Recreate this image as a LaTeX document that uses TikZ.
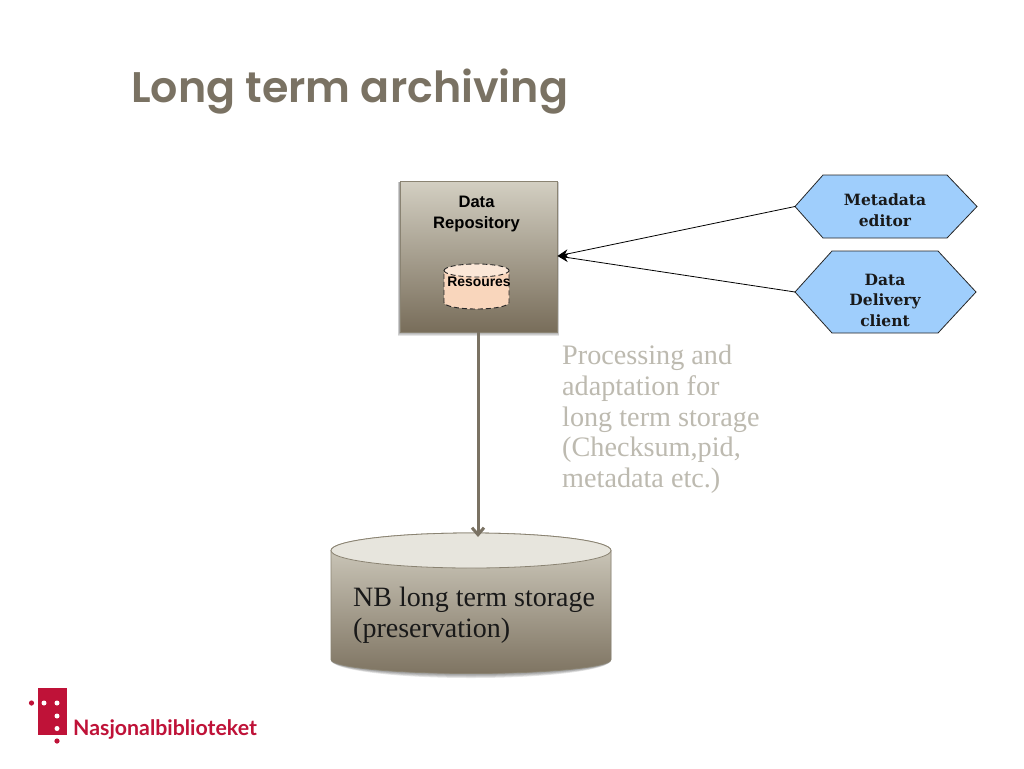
\documentclass[tikz,border=0pt]{standalone}
\usepackage{fontspec}
\setmainfont{Liberation Serif}
\newfontfamily\titlefont{Poppins SemiBold}
\newfontfamily\armfont{Liberation Sans}
\newfontfamily\logofont{Lato}
\newfontfamily\cambfont{DejaVu Serif}
\usetikzlibrary{arrows.meta}
\definecolor{titlec}{HTML}{7A7263}
\definecolor{greyc}{HTML}{BDBAB0}
\definecolor{edgec}{HTML}{8A8372}
\definecolor{topc}{HTML}{D3CFC2}
\definecolor{botc}{HTML}{786D5A}
\definecolor{hexc}{HTML}{9FCEFC}
\definecolor{peach}{HTML}{F9D6BC}
\definecolor{nbred}{HTML}{BF1238}
\tikzset{
  anchorbox/.style={inner sep=0pt,outer sep=0pt,draw=none,anchor=north west},
  hexshape/.style={draw=black!85,line width=0.8pt,fill=hexc,line join=miter},
  hextext/.style={font=\fontsize{15.5}{20.5}\selectfont\cambfont\bfseries,align=center,text=black!90,inner sep=0pt},
  linkarrow/.style={draw=black,line width=0.8pt,-{Stealth[length=11pt,width=9pt]}},
  softshadow/.style={fill=black,fill opacity=0.1,draw=none},
  reddot/.style={fill=nbred,draw=none},
  whitedot/.style={fill=white,draw=none}
}
\begin{document}
\begin{tikzpicture}[x=1pt,y=-1pt]
\useasboundingbox (0,0) rectangle (1024,768);
\fill[white] (0,0) rectangle (1024,768);
% title
\node[anchor=base west,inner sep=0pt,text=titlec,font=\fontsize{42.8}{50}\titlefont] (title) at (131,102) {Long term archiving};
% repository
\foreach \d in {1,2,3,4}{\fill[softshadow] (400-\d*0.6,182) rectangle (557+\d*0.6,332+\d);}
\node[anchorbox,minimum width=157pt,minimum height=151pt,top color=topc,bottom color=botc,draw=edgec,line width=0.8pt] (repo) at (400,181) {};
\node[font=\fontsize{16.6}{21}\selectfont\armfont\bfseries,align=center,inner sep=0pt,text=black] (repotext) at (476.5,214) {Data\\Repository};
% inner cylinder
\node[anchorbox,minimum width=65pt,minimum height=45pt] (res) at (444,264) {};
\fill[peach] (444,270.5) -- (444,302.5) arc[start angle=180,end angle=360,x radius=32.5pt,y radius=6.5pt] -- (509,270.5) -- cycle;
\fill[peach!60!white] (476.5,270.5) ellipse[x radius=32.5pt,y radius=6.5pt];
\draw[black!85,dash pattern=on 5pt off 3pt,line width=0.9pt] (444,270.5) arc[start angle=180,end angle=0,x radius=32.5pt,y radius=6.5pt] -- (509,302.5) arc[start angle=360,end angle=180,x radius=32.5pt,y radius=6.5pt] -- cycle;
\draw[black!85,dash pattern=on 5pt off 3pt,line width=0.9pt] (444,270.5) arc[start angle=180,end angle=360,x radius=32.5pt,y radius=6.5pt];
\node[font=\fontsize{13.9}{16}\selectfont\armfont\bfseries,inner sep=0pt,text=black] (restext) at (479,281.5) {Resoures};
% hexagons
\node[anchorbox,minimum width=182pt,minimum height=63pt] (meta) at (795,175) {};
\draw[hexshape] (meta.west) -- (823,175) -- (947,175) -- (meta.east) -- (947,238) -- (823,238) -- cycle;
\node[hextext] (metatext) at (885,210) {Metadata\\editor};
\node[anchorbox,minimum width=181pt,minimum height=82pt] (deliv) at (795,251) {};
\draw[hexshape] (deliv.west) -- (832,251) -- (938,251) -- (deliv.east) -- (938,333) -- (832,333) -- cycle;
\node[hextext] (delivtext) at (885,300) {Data\\Delivery\\client};
% links
\coordinate (tip) at (557.5,256);
\draw[linkarrow] (meta.west) -- (tip);
\draw[linkarrow] (deliv.west) -- (tip);
% grey text
\node[anchor=north west,inner sep=0pt,align=left,text=greyc,font=\fontsize{28.2}{30.7}\selectfont] (proc) at (562,345) {Processing and\\adaptation for\\long term storage\\(Checksum,pid,\\metadata etc.)};
% storage cylinder
\foreach \d in {1,2,3,4}{\fill[softshadow] (331,550) -- (331,660) arc[start angle=180,end angle=360,x radius=140pt,y radius=14pt+\d] -- (611,550) -- cycle;}
\node[anchorbox,minimum width=280pt,minimum height=141pt] (store) at (331,533) {};
\shade[top color=topc,bottom color=botc!95!white,shading angle=0,draw=edgec,line width=0.8pt] (331,550.5) -- (331,659.5) arc[start angle=180,end angle=360,x radius=140pt,y radius=14pt] -- (611,550.5) arc[start angle=0,end angle=180,x radius=140pt,y radius=17.5pt] -- cycle;
\path[draw=edgec,line width=0.8pt,fill=topc!55!white] (471,550.5) ellipse[x radius=140pt,y radius=17.5pt];
\node[anchor=north west,inner sep=0pt,align=left,text=black!90,font=\fontsize{28}{30.7}\selectfont] (storetext) at (353,587) {NB long term storage\\(preservation)};
% main arrow
\draw[draw=titlec,line width=3pt,-{Straight Barb[length=7pt,width=12pt]}] (repo.south -| 478,0) -- ([yshift=-4pt]store.north -| 478,0);
% logo
\node[anchorbox,minimum width=29pt,minimum height=47pt,fill=nbred] (logo) at (38,688) {};
\fill[reddot] (31.5,703) circle[radius=2.6pt];
\fill[whitedot] (44,703) circle[radius=2.5pt];
\fill[whitedot] (57,703) circle[radius=2.5pt];
\fill[whitedot] (57,716) circle[radius=2.5pt];
\fill[whitedot] (57,728.5) circle[radius=2.5pt];
\fill[reddot] (57,741) circle[radius=2.6pt];
\node[anchor=base west,inner sep=0pt,text=nbred,font=\fontsize{21.3}{26}\logofont\bfseries] (logotext) at (73,735) {Nasjonalbiblioteket};
\end{tikzpicture}
\end{document}
